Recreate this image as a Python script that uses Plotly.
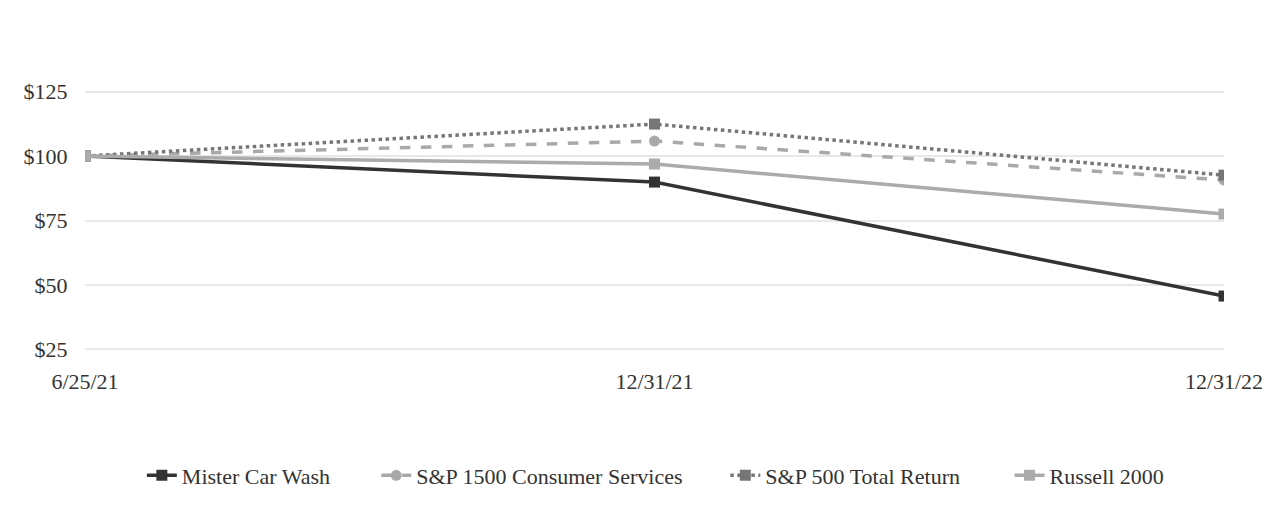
import plotly.graph_objects as go

dates = ["6/25/21", "12/31/21", "12/31/22"]
mister_car_wash = [100, 89.9, 45.7]
sp1500_consumer = [100, 105.8, 90.7]
sp500_total = [100, 112.4, 92.6]
russell_2000 = [100, 96.9, 77.5]
y_ticks = [25, 50, 75, 100, 125]
y_tick_labels = ["$25", "$50", "$75", "$100", "$125"]

series = [
    ("Mister Car Wash", mister_car_wash, "#333333", "solid", "square"),
    ("S&P 1500 Consumer Services", sp1500_consumer, "#a9a9a9", "dash", "circle"),
    ("S&P 500 Total Return", sp500_total, "#767676", "dot", "square"),
    ("Russell 2000", russell_2000, "#ababab", "solid", "square"),
]
legend_ids = ["legend", "legend2", "legend3", "legend4"]
legend_left_px = [142, 377, 727, 1012]

fig = go.Figure()
for (name, vals, color, dash, sym), lid in zip(series, legend_ids):
    fig.add_trace(go.Scatter(
        x=dates, y=vals, name=name, mode="lines+markers",
        line=dict(color=color, width=3.5, dash=dash),
        marker=dict(symbol=sym, size=11, color=color),
        legend=lid,
    ))

plot_l, plot_w = 85, 1275 - 85 - 48
plot_t, plot_b = 89, 155
plot_h = 508 - plot_t - plot_b
legend_layout = {}
for lid, px in zip(legend_ids, legend_left_px):
    legend_layout[lid] = dict(
        orientation="h", x=(px - plot_l) / plot_w, xanchor="left",
        y=(508 - plot_b - 477) / plot_h, yanchor="middle", font=dict(size=22),
        bgcolor="rgba(0,0,0,0)",
    )

fig.update_layout(
    width=1275, height=508,
    margin=dict(l=plot_l, r=48, t=plot_t, b=plot_b),
    paper_bgcolor="white", plot_bgcolor="white",
    font=dict(family="Liberation Serif", size=22, color="#333333"),
    showlegend=True,
    xaxis=dict(type="category", range=[0, 2], showgrid=False, zeroline=False,
               showline=False, ticks="outside", ticklen=10, tickcolor="rgba(0,0,0,0)"),
    yaxis=dict(range=[24, 126], tickvals=y_ticks, ticktext=y_tick_labels,
               showgrid=True, gridcolor="#e8e8e8", gridwidth=2, zeroline=False,
               showline=False,
               ticks="outside", ticklen=12, tickcolor="rgba(0,0,0,0)"),
    **legend_layout,
)

fig.write_html("out.html")
